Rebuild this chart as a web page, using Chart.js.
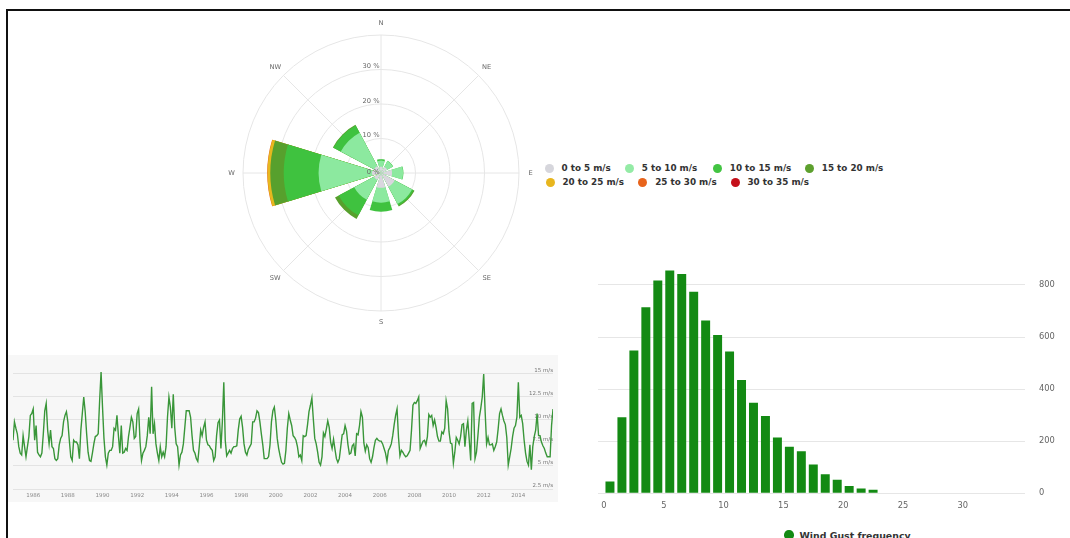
<!DOCTYPE html>
<html>
<head>
<meta charset="utf-8">
<title>Wind statistics</title>
<script src="https://cdn.jsdelivr.net/npm/chart.js@4.4.1/dist/chart.umd.min.js"></script>
<style>
  html, body { margin: 0; padding: 0; background: #fff; width: 1070px; height: 538px; overflow: hidden; }
  body { position: relative; font-family: "DejaVu Sans", sans-serif; }
  .abs { position: absolute; }
  #frameTop { left: 6px; top: 9px; width: 1064px; height: 2px; background: #111; }
  #frameLeft { left: 6px; top: 9px; width: 2px; height: 529px; background: #111; }
  #roseCanvas { left: 221px; top: 13px; }
  #trendCanvas { left: 8px; top: 355px; background: #f7f7f7; }
  #gustCanvas { left: 590px; top: 255px; }
  .legendItem { position: absolute; height: 14px; display: flex; align-items: center;
                font: bold 8.8px "DejaVu Sans", sans-serif; color: #333; white-space: nowrap; }
  .legendItem i { display: inline-block; width: 9px; height: 9px; border-radius: 50%; margin-right: 8px; }
  #gustLegend { left: 784px; top: 528px; height: 14px; display: flex; align-items: center;
                font: bold 9.4px "DejaVu Sans", sans-serif; color: #333; white-space: nowrap; }
  #gustLegend i { display: inline-block; width: 9.5px; height: 9.5px; border-radius: 50%; margin-right: 6px; background: #138a13; }
</style>
</head>
<body>
<div id="frameTop" class="abs"></div>
<div id="frameLeft" class="abs"></div>

<canvas id="roseCanvas" class="abs" width="320" height="320"></canvas>
<div id="roseLegend"></div>

<canvas id="trendCanvas" class="abs" width="550" height="147"></canvas>

<canvas id="gustCanvas" class="abs" width="480" height="265"></canvas>
<div id="gustLegend" class="abs"><i></i><span>Wind Gust frequency</span></div>

<script>
// ---------- Wind rose: share of time (%) per direction and speed band ----------
const directions = ['N', 'NE', 'E', 'SE', 'S', 'SW', 'W', 'NW'];
const speedBands = ['0 to 5 m/s', '5 to 10 m/s', '10 to 15 m/s', '15 to 20 m/s',
                    '20 to 25 m/s', '25 to 30 m/s', '30 to 35 m/s'];
const bandColors = ['#dad6df', '#8ce99f', '#3fc23f', '#57a02d', '#e6b81e', '#e8661c', '#c4101a'];
const legendColors = ['#d6d6dc', '#94eba6', '#42c442', '#5da02e', '#e8b61e', '#e8641c', '#c4101a'];

//                   N    NE   E    SE   S    SW   W     NW
const band0to5   = [1.8, 2.0, 3.2, 4.5, 4.3, 2.3, 2.6,  2.3];
const band5to10  = [1.8, 1.9, 3.2, 5.7, 4.3, 6.5, 15.5, 10.9];
const band10to15 = [0.4, 0.1, 0.1, 0.5, 2.6, 5.1, 10.1, 2.4];
const band15to20 = [0,   0,   0,   0.3, 0,   1.2, 3.9,  0.2];
const band20to25 = [0,   0,   0,   0,   0,   0,   0.8,  0];
const band25to30 = [0,   0,   0,   0,   0,   0,   0.1,  0];
const band30to35 = [0,   0,   0,   0,   0,   0,   0,    0];
const roseTickValues = [0, 10, 20, 30];

const bandSeries = [band0to5, band5to10, band10to15, band15to20, band20to25, band25to30, band30to35];

// Each direction is a 34° sector separated by 11° gaps; the north sector is split
// across 0° so the scale can keep north at the top.
const SECTOR = 34, GAP = 11;
const sliceAngles = [SECTOR / 2];
for (let d = 1; d < directions.length; d++) sliceAngles.push(GAP, SECTOR);
sliceAngles.push(GAP, SECTOR / 2 + 0.5);

function toSlices(values) {
  const out = [values[0]];
  for (let d = 1; d < values.length; d++) out.push(0, values[d]);
  out.push(0, values[0]);
  return out;
}

// Stack the bands: every band is drawn out to its cumulative share
const stackedBands = bandSeries.map((band, k) =>
  band.map((v, d) => v > 0 ? bandSeries.slice(0, k + 1).reduce((s, b) => s + b[d], 0) : 0));

const roseLabels = {
  id: 'roseLabels',
  afterDraw(chart) {
    const r = chart.scales.r;
    const ctx = chart.ctx;
    ctx.save();
    ctx.font = '6.7px "DejaVu Sans", sans-serif';
    ctx.fillStyle = '#666';
    ctx.textAlign = 'center';
    ctx.textBaseline = 'middle';
    directions.forEach((d, i) => {
      const p = r.getPointPosition(i, r.drawingArea + 11.5);
      ctx.fillText(d, p.x, p.y);
    });
    ctx.textAlign = 'right';
    roseTickValues.forEach(v => {
      const dist = r.getDistanceFromCenterForValue(v);
      ctx.fillText(v + ' %', r.xCenter - 1.5, r.yCenter - dist - (v ? 3 : 1));
    });
    ctx.restore();
  }
};

Chart.defaults.font.family = '"DejaVu Sans", sans-serif';
Chart.defaults.animation = false;

new Chart(document.getElementById('roseCanvas'), {
  type: 'polarArea',
  data: {
    labels: directions,
    datasets: stackedBands.map((vals, k) => ({
      label: speedBands[k],
      data: toSlices(vals),
      angle: sliceAngles,
      backgroundColor: bandColors[k],
      borderWidth: 0
    }))
  },
  options: {
    responsive: false,
    layout: { padding: 22 },
    plugins: { legend: { display: false }, tooltip: { enabled: false } },
    scales: {
      r: {
        min: 0, max: 40, startAngle: 0,
        ticks: { display: false, stepSize: 10 },
        grid: { color: '#e6e6e6', circular: true },
        angleLines: { display: true, color: '#e6e6e6' },
        pointLabels: { display: false }
      }
    }
  },
  plugins: [roseLabels]
});

// HTML legend for the speed bands (two rows)
const legendDotX = [549, 629.3, 717.3, 809.3, 550, 642.7, 735];
const legendRowY = [168.3, 182.3];
const roseLegend = document.getElementById('roseLegend');
speedBands.forEach((label, k) => {
  const item = document.createElement('span');
  item.className = 'legendItem';
  item.style.left = (legendDotX[k] - 4.5) + 'px';
  item.style.top = (legendRowY[k < 4 ? 0 : 1] - 7) + 'px';
  const dot = document.createElement('i');
  dot.style.background = legendColors[k];
  item.appendChild(dot);
  item.appendChild(document.createTextNode(label));
  roseLegend.appendChild(item);
});

// ---------- Monthly mean wind speed (m/s), November 1984 to January 2016 ----------
const trendStartYear = 1984 + 10 / 12;
const monthlyWindSpeed = [
  7.8, 9.8,                                                          // 1984 Nov-Dec
  9.1, 8.5, 7.1, 6.4, 6.2, 8.3, 7.1, 6.0, 7.1, 8.2, 10.5, 10.7,      // 1985
  11.2, 7.8, 9.4, 6.5, 6.2, 6.0, 6.4, 8.5, 11.0, 11.8, 8.9, 7.4,     // 1986
  8.9, 7.1, 6.9, 5.8, 5.6, 5.8, 7.3, 8.0, 8.3, 9.8, 10.5, 10.9,      // 1987
  9.8, 7.8, 6.0, 5.6, 7.8, 7.6, 7.6, 7.3, 5.8, 8.9, 10.7, 12.5,      // 1988
  10.9, 8.5, 6.5, 5.6, 5.5, 6.4, 7.4, 8.2, 8.3, 8.5, 12.1, 15.2,     // 1989
  11.4, 8.0, 6.0, 5.1, 6.4, 6.7, 6.7, 7.1, 9.1, 8.9, 10.5, 8.3,      // 1990
  6.4, 9.4, 6.4, 6.5, 6.9, 6.7, 8.2, 9.2, 10.3, 9.8, 8.0, 8.2,       // 1991
  10.7, 11.2, 7.6, 5.6, 6.4, 6.7, 7.1, 8.3, 10.3, 8.5, 13.6, 8.5,    // 1992
  9.6, 7.4, 6.4, 5.6, 7.1, 6.0, 6.5, 6.0, 7.1, 10.3, 12.5, 11.4,     // 1993
  9.1, 12.8, 9.2, 7.4, 7.1, 5.1, 6.2, 6.5, 7.4, 9.2, 11.0, 11.0,     // 1994
  11.0, 10.3, 8.3, 6.7, 6.4, 5.8, 5.5, 7.1, 8.9, 8.3, 9.2, 9.8,      // 1995
  7.8, 7.3, 7.2, 6.9, 6.7, 5.6, 6.0, 8.3, 9.7, 10.0, 6.9, 9.8,       // 1996
  14.1, 7.8, 6.1, 6.4, 6.7, 6.4, 6.9, 7.1, 7.1, 7.2, 8.9, 10.1,      // 1997
  10.4, 9.2, 7.4, 6.5, 6.2, 6.8, 7.1, 7.4, 9.8, 9.8, 10.2, 11.0,     // 1998
  10.8, 9.8, 8.5, 7.3, 5.8, 5.8, 5.8, 6.0, 7.3, 9.8, 11.0, 11.4,     // 1999
  10.0, 8.0, 6.9, 6.1, 5.4, 5.2, 5.3, 6.7, 9.1, 10.7, 10.0, 9.4,     // 2000
  8.3, 8.1, 7.8, 7.1, 6.0, 6.2, 5.6, 8.3, 8.2, 8.3, 9.5, 10.9,       // 2001
  11.6, 12.4, 10.1, 8.0, 7.4, 6.5, 5.4, 5.1, 6.0, 8.6, 8.2, 9.0,     // 2002
  9.9, 9.2, 7.6, 6.9, 7.9, 6.8, 5.8, 5.4, 5.8, 7.1, 8.4, 8.5,        // 2003
  9.4, 8.8, 7.3, 6.3, 6.4, 7.2, 7.4, 6.1, 8.5, 8.4, 9.4, 10.9,       // 2004
  10.3, 7.5, 6.6, 7.3, 7.0, 5.8, 5.4, 6.0, 7.0, 7.8, 8.0, 7.8,       // 2005
  7.7, 7.7, 7.4, 6.9, 6.4, 5.5, 6.7, 7.0, 7.4, 8.3, 9.5, 10.5,       // 2006
  11.2, 8.1, 6.1, 6.7, 6.5, 6.2, 6.0, 6.1, 6.4, 6.7, 8.9, 11.6,      // 2007
  11.9, 11.8, 12.1, 12.5, 6.9, 7.3, 7.7, 7.8, 7.3, 8.2, 10.6, 10.3,  // 2008
  10.5, 9.4, 10.0, 9.2, 8.2, 7.7, 7.7, 8.7, 8.5, 9.1, 12.1, 11.2,    // 2009
  8.7, 7.5, 7.4, 5.3, 6.5, 8.1, 7.8, 7.4, 8.2, 9.5, 9.6, 7.1,        // 2010
  8.9, 9.9, 7.8, 5.6, 11.8, 11.9, 5.8, 6.5, 8.3, 10.3, 11.3, 12.5,   // 2011
  15.0, 10.9, 7.4, 8.1, 7.3, 7.3, 7.4, 6.7, 7.1, 7.6, 9.0, 10.7,     // 2012
  11.2, 10.5, 9.9, 9.5, 8.1, 5.1, 6.0, 6.9, 8.2, 9.1, 9.4, 10.3,     // 2013
  14.1, 10.3, 10.5, 9.6, 7.8, 6.4, 5.5, 5.1, 7.3, 4.6, 7.1, 8.2,     // 2014
  8.9, 10.7, 8.3, 8.3, 7.6, 7.2, 6.9, 6.4, 6.0, 6.0, 6.0, 9.4,       // 2015
  11.2                                                               // 2016 Jan
];
const trendTickStep = 2.5;
const trendTopTick = 15;

const trendPoints = monthlyWindSpeed.map((v, i) => ({ x: trendStartYear + i / 12, y: v }));

new Chart(document.getElementById('trendCanvas'), {
  type: 'line',
  data: {
    datasets: [{
      data: trendPoints,
      borderColor: '#399639',
      borderWidth: 1.4,
      pointRadius: 0,
      tension: 0
    }]
  },
  options: {
    responsive: false,
    layout: { padding: { left: 5, right: 5, top: 5, bottom: 0 } },
    plugins: { legend: { display: false }, tooltip: { enabled: false } },
    scales: {
      x: {
        type: 'linear',
        min: trendPoints[0].x,
        max: trendPoints[trendPoints.length - 1].x,
        grid: { display: false, drawTicks: false },
        border: { display: false },
        ticks: {
          stepSize: 2, includeBounds: false, autoSkip: false, maxRotation: 0, minRotation: 0,
          padding: 3.7, color: '#888', font: { size: 5.5 },
          callback: v => (Number.isInteger(v) && v % 2 === 0 && v <= 2014) ? String(v) : ''
        },
        afterFit: s => { s.height = 13; }
      },
      y: {
        position: 'right',
        min: 2.5, max: 16.52,
        grid: {
          drawTicks: false,
          color: c => (c.tick && c.tick.value % trendTickStep === 0 && c.tick.value <= trendTopTick) ? '#e3e3e3' : 'rgba(0,0,0,0)'
        },
        border: { display: false },
        ticks: {
          stepSize: trendTickStep, includeBounds: false, mirror: true, padding: 0, labelOffset: -3,
          color: '#777', font: { size: 5.5 },
          callback: v => (v % trendTickStep === 0 && v <= trendTopTick) ? v + ' m/s' : ''
        },
        afterFit: s => { s.width = 0; }
      }
    }
  }
});

// ---------- Wind gust frequency histogram ----------
const gustSpeedBins = [0.5, 1.5, 2.5, 3.5, 4.5, 5.5, 6.5, 7.5, 8.5, 9.5, 10.5, 11.5,
                       12.5, 13.5, 14.5, 15.5, 16.5, 17.5, 18.5, 19.5, 20.5, 21.5, 22.5];
const gustCounts = [45, 292, 548, 714, 817, 855, 842, 774, 663, 608, 544, 435,
                    348, 297, 214, 179, 161, 111, 73, 52, 28, 18, 14];
const gustTickStep = 200;

new Chart(document.getElementById('gustCanvas'), {
  type: 'bar',
  data: {
    datasets: [{
      label: 'Wind Gust frequency',
      data: gustSpeedBins.map((x, i) => ({ x: x, y: gustCounts[i] })),
      backgroundColor: '#138a13',
      barPercentage: 0.75,
      categoryPercentage: 1
    }]
  },
  options: {
    responsive: false,
    layout: { padding: { left: 8, right: 0, top: 9.1, bottom: 0 } },
    plugins: { legend: { display: false }, tooltip: { enabled: false } },
    scales: {
      x: {
        type: 'linear', min: -0.5, max: 35.2, offset: false,
        grid: { display: false, drawTicks: false },
        border: { display: false },
        ticks: {
          stepSize: 5, includeBounds: false, autoSkip: false, maxRotation: 0, minRotation: 0,
          padding: 7.4, color: '#666', font: { size: 8.3 },
          callback: v => (v >= 0 && v <= 30 && v % 5 === 0) ? String(v) : ''
        },
        afterFit: s => { s.height = 26.7; }
      },
      y: {
        position: 'right', min: 0, max: 880,
        grid: {
          drawTicks: true, tickLength: 14, tickColor: 'rgba(0,0,0,0)',
          color: c => (c.tick && c.tick.value % gustTickStep === 0) ? '#e6e6e6' : 'rgba(0,0,0,0)'
        },
        border: { display: false },
        ticks: {
          stepSize: gustTickStep, includeBounds: false, padding: 0, color: '#666', font: { size: 8.3 },
          callback: v => v % gustTickStep === 0 ? String(v) : ''
        },
        afterFit: s => { s.width = 45; }
      }
    }
  }
});
</script>
</body>
</html>
